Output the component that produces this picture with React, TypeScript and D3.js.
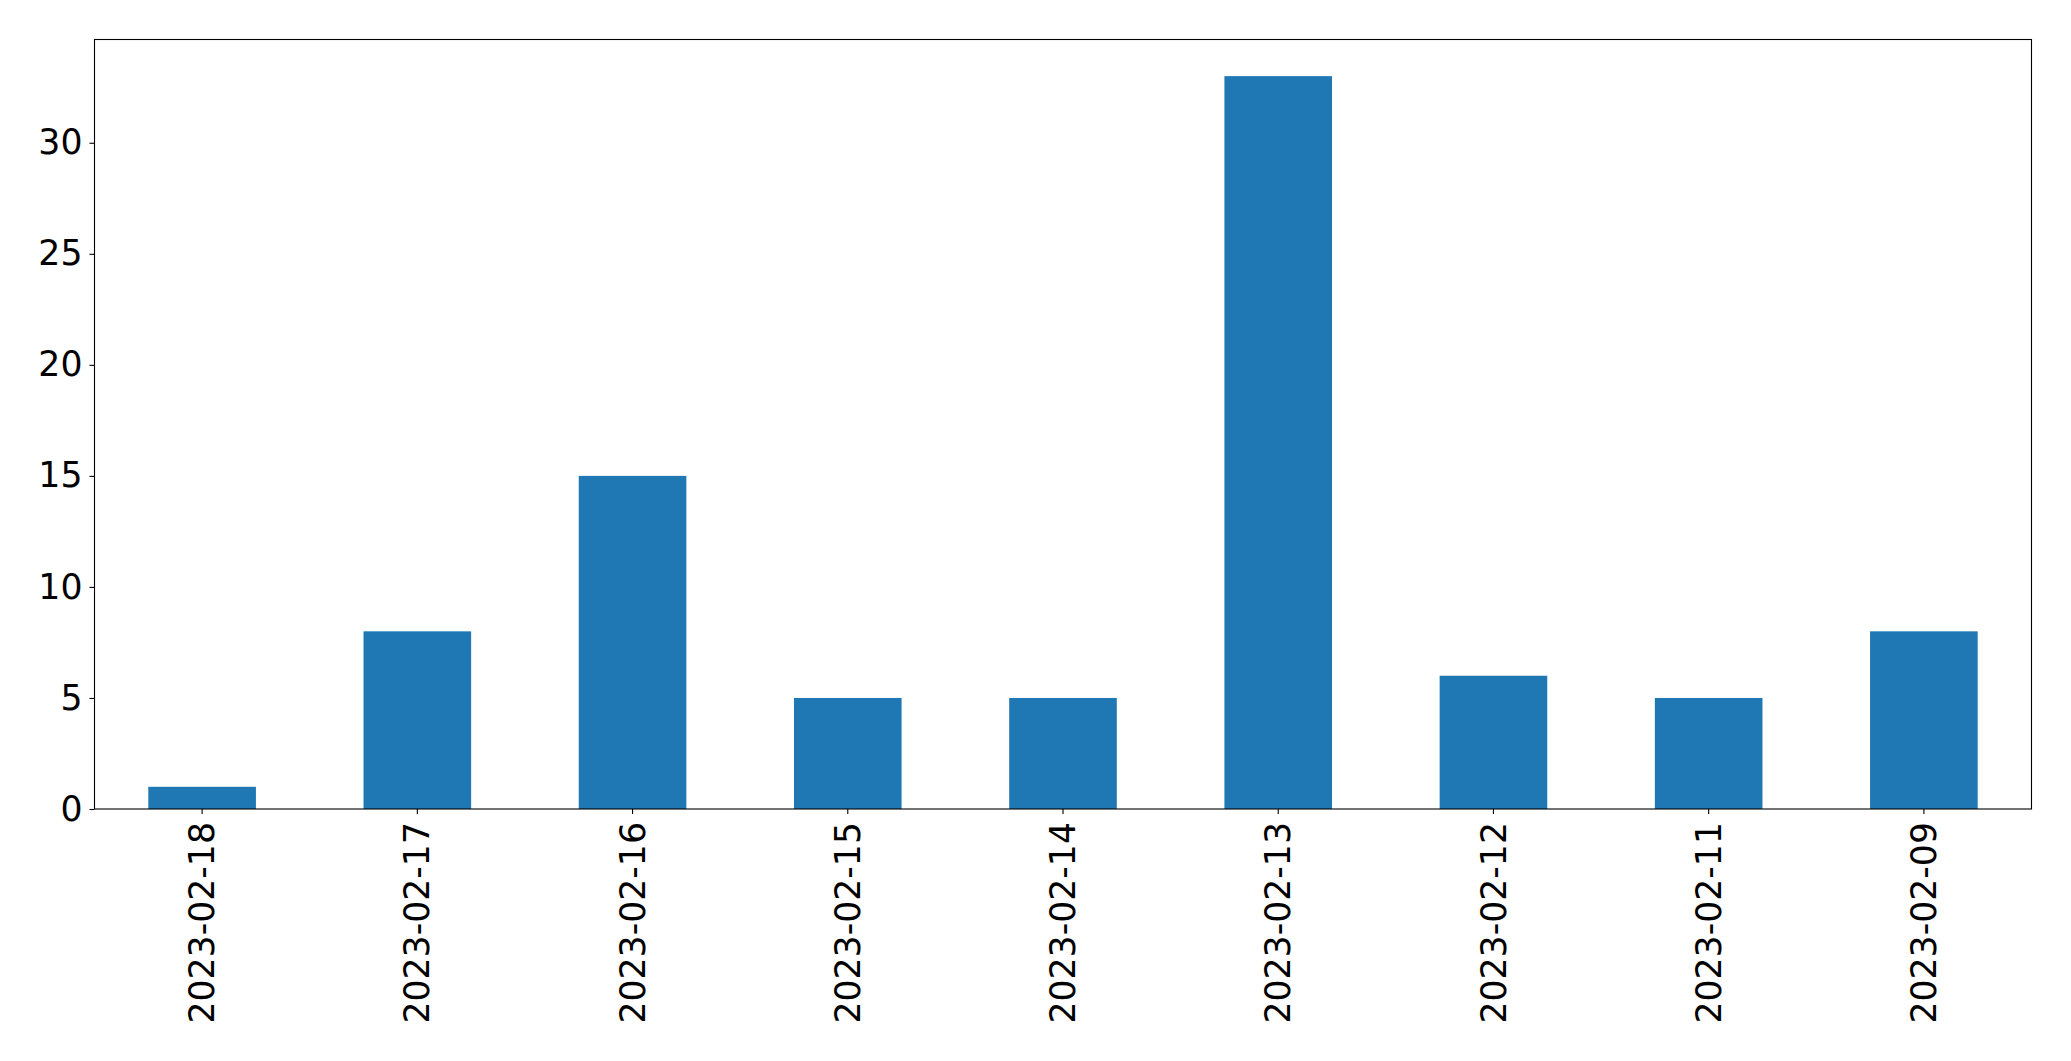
import * as React from "react";
import * as d3 from "d3";
import { useEffect, useRef } from "react";

const categories = [
  "2023-02-18",
  "2023-02-17",
  "2023-02-16",
  "2023-02-15",
  "2023-02-14",
  "2023-02-13",
  "2023-02-12",
  "2023-02-11",
  "2023-02-09",
];
const counts = [1, 8, 15, 5, 5, 33, 6, 5, 8];
const yTicks = [0, 5, 10, 15, 20, 25, 30];

const W = 2071;
const H = 1061;
const margin = { top: 39.5, right: 39.5, bottom: 252, left: 94.5 };

const App: React.FunctionComponent = () => {
  const svgRef = useRef<SVGSVGElement>(null);

  useEffect(() => {
    const svg = d3.select(svgRef.current);
    svg.selectAll("*").remove();

    const x0 = margin.left;
    const x1 = W - margin.right;
    const y0 = margin.top;
    const y1 = H - margin.bottom;

    const xScale = d3
      .scaleBand()
      .domain(categories)
      .range([x0, x1])
      .paddingInner(0.5)
      .paddingOuter(0.25);

    const yMax = d3.max(counts) * 1.05;
    const yScale = d3.scaleLinear().domain([0, yMax]).range([y1, y0]);

    svg
      .selectAll(".bar")
      .data(counts)
      .join("rect")
      .attr("class", "bar")
      .attr("x", (_, i) => xScale(categories[i]))
      .attr("y", (d) => yScale(d))
      .attr("width", xScale.bandwidth())
      .attr("height", (d) => y1 - yScale(d))
      .attr("fill", "#1f77b4");

    const font = "DejaVu Sans, sans-serif";
    const fontSize = 34.7;

    const yAxis = svg
      .append("g")
      .attr("transform", `translate(${x0},0)`)
      .call(d3.axisLeft(yScale).tickValues(yTicks).tickSize(5).tickPadding(7));
    yAxis.select(".domain").remove();
    yAxis
      .selectAll("text")
      .attr("font-family", font)
      .attr("font-size", fontSize)
      .attr("fill", "#000");
    yAxis.selectAll("line").attr("stroke", "#000").attr("stroke-width", 1.1);

    const xAxis = svg
      .append("g")
      .attr("transform", `translate(0,${y1})`)
      .call(d3.axisBottom(xScale).tickSize(5).tickPadding(0));
    xAxis.select(".domain").remove();
    xAxis.selectAll("line").attr("stroke", "#000").attr("stroke-width", 1.1);
    xAxis
      .selectAll("text")
      .attr("font-family", font)
      .attr("font-size", fontSize)
      .attr("fill", "#000")
      .attr("text-anchor", "end")
      .attr("transform", "rotate(-90)")
      .attr("x", -13)
      .attr("y", 0)
      .attr("dy", "0.35em");

    svg
      .append("rect")
      .attr("x", x0)
      .attr("y", y0)
      .attr("width", x1 - x0)
      .attr("height", y1 - y0)
      .attr("fill", "none")
      .attr("stroke", "#000")
      .attr("stroke-width", 1.1);
  }, []);

  return (
    <svg
      ref={svgRef}
      width={W}
      height={H}
      style={{ position: "absolute", left: 0, top: 0, background: "#fff" }}
    ></svg>
  );
};

export default App;
